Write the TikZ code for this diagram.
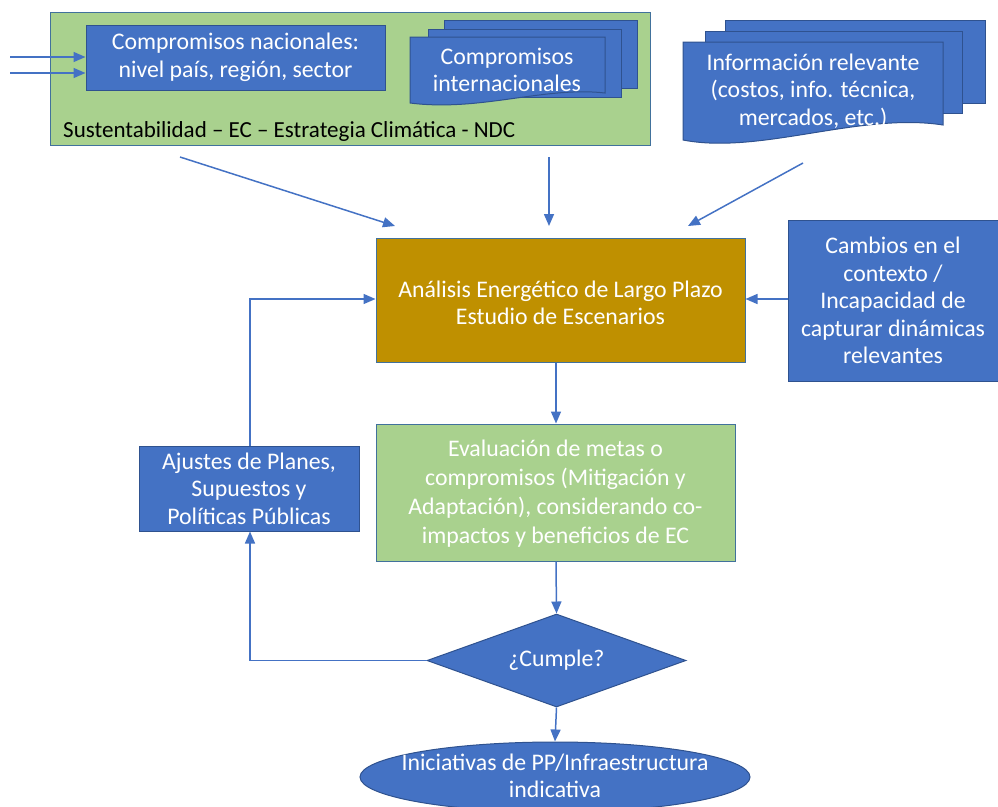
\documentclass[tikz,border=0pt]{standalone}
\usepackage{fontspec}
\setmainfont{Carlito}
\usetikzlibrary{shapes.geometric,arrows.meta}

\definecolor{blueF}{HTML}{4472C4}
\definecolor{blueE}{HTML}{2F528F}
\definecolor{greenF}{HTML}{A9D18E}
\definecolor{goldF}{HTML}{BF9000}
\definecolor{edgeC}{HTML}{41719C}
\definecolor{lineC}{HTML}{4472C4}

\tikzset{
  txt/.style={font=\fontsize{23.8}{27.6}\selectfont, text=white, align=center, inner sep=0pt},
  bluebox/.style={draw=blueE, line width=1pt, fill=blueF, txt},
  greenbox/.style={draw=edgeC, line width=1pt, fill=greenF, txt},
  goldbox/.style={draw=edgeC, line width=1pt, fill=goldF, txt},
  sheet/.style={draw=blueE, line width=1pt, fill=blueF},
  link/.style={draw=lineC, line width=1.5pt, -{Triangle[length=12pt,width=10pt]}},
}

\begin{document}
\begin{tikzpicture}[x=1pt, y=-1pt]
\useasboundingbox (0,0) rectangle (998,806);

% frame of national and international commitments
\node[greenbox, minimum width=600pt, minimum height=133pt] (marco) at (350,78.5) {};
\node[font=\fontsize{23}{27.6}\selectfont, anchor=west, inner sep=0pt] (sust) at (63,131)
  {Sustentabilidad – EC – Estrategia Climática - NDC};

\node[bluebox, minimum width=299pt, minimum height=65pt] (nac) at (235.5,57.5)
  {Compromisos nacionales:\\nivel país, región, sector};

% stacked documents: international commitments
\filldraw[sheet] (444,20) rectangle (637,88);
\filldraw[sheet] (428,29) rectangle (621,97);
\filldraw[sheet] (410,37) -- (605,37) -- (605,93)
  .. controls (545,86) and (480,112) .. (410,103) -- cycle;
\node[txt] (inter) at (507,70) {Compromisos\\internacionales};

% stacked documents: relevant information
\filldraw[sheet] (725,20) rectangle (985,103);
\filldraw[sheet] (705,31) rectangle (962,113);
\filldraw[sheet] (683,42) -- (943,42) -- (943,125)
  .. controls (860,112) and (760,155) .. (683,140) -- cycle;
\node[txt] (info) at (813,91) {Información relevante\\(costos, info. técnica,\\mercados, etc.)};

% inputs entering the national commitments
\coordinate (inA) at (10,57);
\coordinate (inB) at (10,73);
\draw[link] (inA) -- (inA -| nac.west);
\draw[link] (inB) -- (inB -| nac.west);

% main flow
\node[goldbox, minimum width=369pt, minimum height=124pt] (analisis) at (560.5,300) {};
\node[txt] (analisisTxt) at (560.5,303)
  {Análisis Energético de Largo Plazo\\Estudio de Escenarios};

\node[bluebox, minimum width=210pt, minimum height=161pt] (cambios) at (893,300.5)
  {Cambios en el\\contexto /\\Incapacidad de\\capturar dinámicas\\relevantes};

\node[greenbox, minimum width=359pt, minimum height=137pt] (eval) at (555.5,492.5) {};
\node[txt, font=\fontsize{23.8}{29}\selectfont] (evalTxt) at (555.5,494)
  {Evaluación de metas o\\compromisos (Mitigación y\\Adaptación), considerando co-\\impactos y beneficios de EC};

\node[diamond, aspect=2.78, draw=blueE, line width=1pt, fill=blueF, txt,
      minimum width=259pt, minimum height=93pt] (cumple) at (556.5,660.5) {¿Cumple?};

\node[ellipse, draw=blueE, line width=1pt, fill=blueF,
      minimum width=390pt, minimum height=70pt, inner sep=0pt] (inic) at (555,777) {};
\node[txt] (inicTxt) at (555,776) {Iniciativas de PP/Infraestructura\\indicativa};

\node[bluebox, minimum width=220pt, minimum height=85pt] (ajustes) at (249,488.5)
  {Ajustes de Planes,\\Supuestos y\\Políticas Públicas};

% arrows from the top row into the analysis
\coordinate (s1) at (180,157);
\coordinate (e1) at (395,226);
\coordinate (s2) at (549,157);
\coordinate (e2) at (549,226);
\coordinate (s3) at (803,163);
\coordinate (e3) at (688,226);
\draw[link] (s1) -- (e1);
\draw[link] (s2) -- (e2);
\draw[link] (s3) -- (e3);

\draw[link] (cambios.west |- 0,299) -- (analisis.east |- 0,299);
\draw[link] (analisis.south -| 556,0) -- (eval.north -| 556,0);
\draw[link] (eval.south -| 556,0) -- (cumple.north);
\draw[link] (cumple.south) -- (inic.north);

% feedback loop
\draw[link] (cumple.west) -| (ajustes.south -| 250,0);
\draw[link] (ajustes.north -| 250,0) |- (analisis.west |- 0,299);

\end{tikzpicture}
\end{document}
